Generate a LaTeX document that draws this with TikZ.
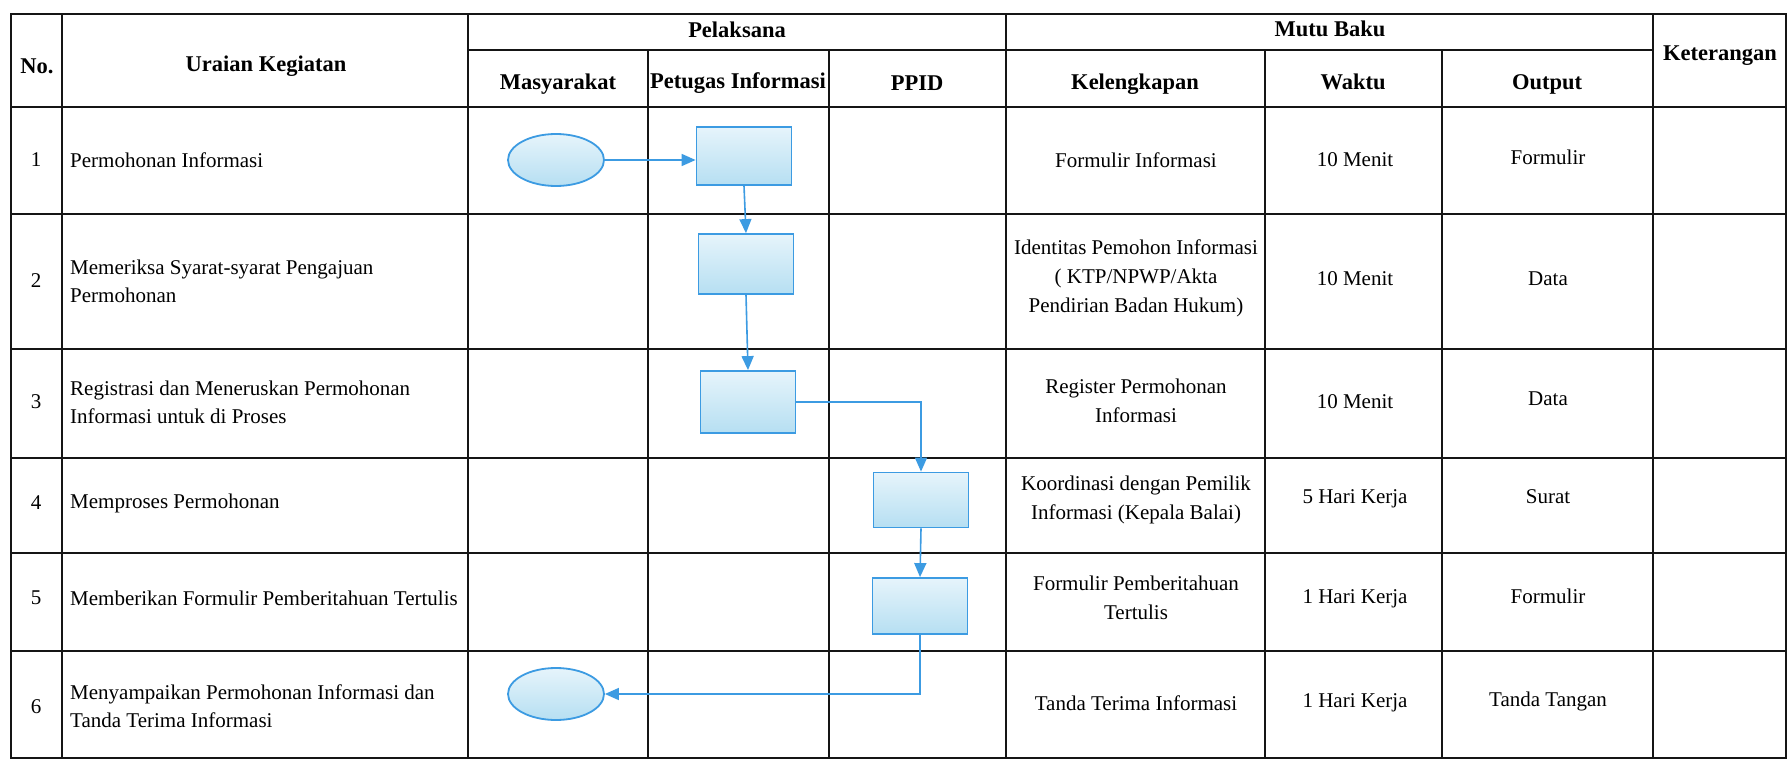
\documentclass[tikz,border=0pt]{standalone}
\usepackage{fontspec}
\setmainfont{Liberation Serif}
\usetikzlibrary{shapes.geometric,arrows.meta}
\definecolor{flowblue}{HTML}{3C9BE2}
\definecolor{filltop}{HTML}{E6F4FB}
\definecolor{fillbot}{HTML}{B6DFF2}
\definecolor{gridcol}{HTML}{151515}
\begin{document}
\begin{tikzpicture}[x=1pt,y=-1pt,
  gridline/.style={line width=2.8pt, draw=gridcol},
  hdr/.style={font=\fontsize{22.5}{27}\selectfont\bfseries, align=center, inner sep=0},
  txt/.style={font=\fontsize{21}{29}\selectfont, align=center, inner sep=0},
  ltxt/.style={font=\fontsize{21}{28}\selectfont, align=left, anchor=west, inner sep=0},
  procbox/.style={rectangle, draw=flowblue, line width=1.8pt, top color=filltop, bottom color=fillbot, minimum width=95pt, minimum height=58pt, inner sep=0},
  termnode/.style={ellipse, draw=flowblue, line width=1.8pt, top color=filltop, bottom color=fillbot, minimum width=96pt, minimum height=52pt, inner sep=0},
  flow/.style={draw=flowblue, line width=1.6pt, -{Triangle[length=14pt,width=12pt]}}
]
\useasboundingbox (0,0) rectangle (1788,760);
\fill[white] (0,0) rectangle (1788,760);

% table grid
\draw[gridline] (11,14) rectangle (1786,758);
\foreach \x in {62,468,1006,1653} \draw[gridline] (\x,14) -- (\x,758);
\foreach \x in {648,829,1265,1442} \draw[gridline] (\x,50) -- (\x,758);
\draw[gridline] (468,50) -- (1653,50);
\foreach \y in {107,214,349,458,553,651} \draw[gridline] (11,\y) -- (1786,\y);

% header
\node[hdr] (hno) at (37,66) {No.};
\node[hdr] (hur) at (266,66) {Uraian Kegiatan};
\node[hdr] (hpel) at (737,30) {Pelaksana};
\node[hdr] (hmutu) at (1330,29) {Mutu Baku};
\node[hdr] (hket) at (1720,56) {Keterangan};
\node[hdr] (hmas) at (558,84) {Masyarakat};
\node[hdr] (hpet) at (738,83) {Petugas Informasi};
\node[hdr] (hppid) at (917,83) {PPID};
\node[hdr] (hkel) at (1135,84) {Kelengkapan};
\node[hdr] (hwak) at (1353,82) {Waktu};
\node[hdr] (hout) at (1547,84) {Output};

% numbers
\node[txt] (n1) at (36,160) {1};
\node[txt] (n2) at (36,281) {2};
\node[txt] (n3) at (36,402) {3};
\node[txt] (n4) at (36,503) {4};
\node[txt] (n5) at (36,598) {5};
\node[txt] (n6) at (36,707) {6};

% uraian
\node[ltxt] (u1) at (70,160) {Permohonan Informasi};
\node[ltxt] (u2) at (70,281) {Memeriksa Syarat-syarat Pengajuan\\Permohonan};
\node[ltxt] (u3) at (70,402) {Registrasi dan Meneruskan Permohonan\\Informasi untuk di Proses};
\node[ltxt] (u4) at (70,503) {Memproses Permohonan};
\node[ltxt] (u5) at (70,598) {Memberikan Formulir Pemberitahuan Tertulis};
\node[ltxt] (u6) at (70,706) {Menyampaikan Permohonan Informasi dan\\Tanda Terima Informasi};

% kelengkapan
\node[txt] (k1) at (1136,160) {Formulir Informasi};
\node[txt] (k2) at (1136,278) {Identitas Pemohon Informasi\\( KTP/NPWP/Akta\\Pendirian Badan Hukum)};
\node[txt] (k3) at (1136,401) {Register Permohonan\\Informasi};
\node[txt] (k4) at (1136,500) {Koordinasi dengan Pemilik\\Informasi (Kepala Balai)};
\node[txt] (k5) at (1136,598) {Formulir Pemberitahuan\\Tertulis};
\node[txt] (k6) at (1136,703) {Tanda Terima Informasi};

% waktu
\node[txt] (w1) at (1355,160) {10 Menit};
\node[txt] (w2) at (1355,279) {10 Menit};
\node[txt] (w3) at (1355,402) {10 Menit};
\node[txt] (w4) at (1355,499) {5 Hari Kerja};
\node[txt] (w5) at (1355,599) {1 Hari Kerja};
\node[txt] (w6) at (1355,703) {1 Hari Kerja};

% output
\node[txt] (o1) at (1548,157) {Formulir};
\node[txt] (o2) at (1548,279) {Data};
\node[txt] (o3) at (1548,399) {Data};
\node[txt] (o4) at (1548,497) {Surat};
\node[txt] (o5) at (1548,596) {Formulir};
\node[txt] (o6) at (1548,701) {Tanda Tangan};

% flowchart
\node[termnode] (e1) at (556,160) {};
\node[procbox] (r1) at (744,156) {};
\node[procbox, minimum height=60pt] (r2) at (746,264) {};
\node[procbox, minimum height=62pt] (r3) at (748,402) {};
\node[procbox, minimum height=55pt] (r4) at (921,500) {};
\node[procbox, minimum height=56pt] (r5) at (920,606) {};
\node[termnode] (e6) at (556,694) {};

\draw[flow] (e1.east) -- (e1.east -| r1.west);
\draw[flow] (r1.south) -- (r2.north);
\draw[flow] (r2.south) -- (r3.north);
\draw[flow] (r3.east) -| (r4.north);
\draw[flow] (r4.south) -- (r5.north);
\draw[flow] (r5.south) |- (e6.east);
\end{tikzpicture}
\end{document}
